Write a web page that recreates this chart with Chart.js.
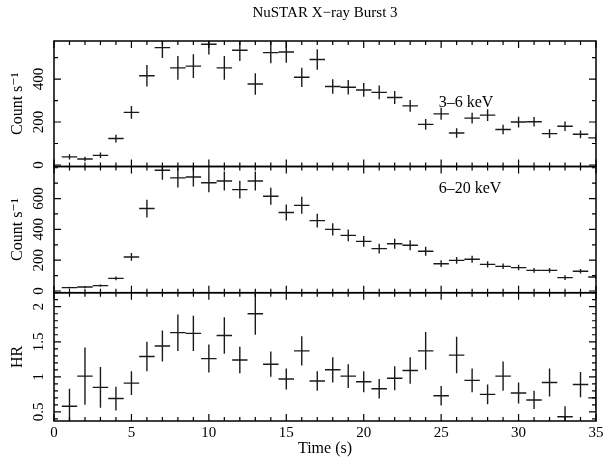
<!DOCTYPE html>
<html>
<head>
<meta charset="utf-8">
<script src="https://cdn.jsdelivr.net/npm/chart.js@4.4.1/dist/chart.umd.min.js"></script>
<style>
  body { margin: 0; background: #fff; width: 605px; height: 458px; position: relative; overflow: hidden; }
  canvas { position: absolute; left: 0; }
</style>
</head>
<body>
<canvas id="soft" width="605" height="172" style="top:0px"></canvas>
<canvas id="hard" width="605" height="140" style="top:160px"></canvas>
<canvas id="ratio" width="605" height="173" style="top:285px"></canvas>
<script>
// time bins (s), 1 s wide
const timeBins = [1, 2, 3, 4, 5, 6, 7, 8, 9, 10, 11, 12, 13, 14, 15, 16, 17, 18, 19, 20,
                  21, 22, 23, 24, 25, 26, 27, 28, 29, 30, 31, 32, 33, 34, 35];
const binHalf = 0.5;

// 3-6 keV count rate
const soft = [38, 28, 45, 123, 245, 415, 546, 452, 460, 562, 452, 534, 377, 523, 526, 408, 491, 365,
              362, 349, 338, 314, 275, 189, 238, 149, 218, 232, 165, 200, 201, 146, 180, 143, 126];
const softErr = [12, 10, 13, 18, 30, 50, 48, 55, 55, 48, 55, 50, 50, 50, 50, 45, 48, 34,
                 34, 32, 32, 30, 27, 25, 28, 22, 25, 27, 22, 25, 22, 20, 22, 18, 18];

// 6-20 keV count rate
const hard = [22, 26, 35, 82, 221, 535, 784, 734, 740, 703, 714, 658, 714, 615, 509, 556, 457, 400,
              361, 322, 275, 307, 297, 258, 177, 199, 206, 173, 160, 152, 134, 134, 87, 128, 91];
const hardErr = [6, 6, 8, 12, 25, 58, 62, 62, 62, 62, 62, 58, 62, 55, 52, 55, 45, 40,
                 38, 35, 32, 32, 32, 30, 22, 22, 22, 20, 18, 18, 16, 15, 15, 15, 15];

// hardness ratio
const hr = [0.58, 1.01, 0.85, 0.69, 0.91, 1.29, 1.44, 1.63, 1.62, 1.26, 1.59, 1.24, 1.90, 1.18, 0.97, 1.37, 0.94, 1.10,
            1.01, 0.93, 0.83, 0.98, 1.09, 1.37, 0.73, 1.31, 0.95, 0.75, 1.01, 0.77, 0.67, 0.92, 0.43, 0.89, 0.70];
const hrErr = [0.25, 0.41, 0.29, 0.17, 0.17, 0.21, 0.22, 0.26, 0.25, 0.20, 0.26, 0.19, 0.30, 0.18, 0.15, 0.21, 0.14, 0.18,
               0.17, 0.15, 0.14, 0.17, 0.19, 0.27, 0.14, 0.26, 0.17, 0.14, 0.21, 0.15, 0.13, 0.20, 0.15, 0.18, 0.17];

// tick labels
const timeTicks = [0, 5, 10, 15, 20, 25, 30, 35];
const softTicks = [0, 200, 400];
const hardTicks = [0, 200, 400, 600];
const hrTicks = [0.5, 1, 1.5, 2];

const serif = "'Liberation Serif', 'DejaVu Serif', serif";

// crosses, box and inward ticks
const panelPlugin = {
  id: 'panel',
  afterDatasetsDraw(chart, args, o) {
    const { ctx, chartArea: a, scales: { x, y } } = chart;
    ctx.save();
    ctx.beginPath();
    ctx.rect(a.left, a.top, a.right - a.left, a.bottom - a.top);
    ctx.clip();
    ctx.strokeStyle = '#1a1a1a';
    ctx.lineWidth = 1.4;
    chart.data.datasets.forEach(ds => {
      ds.data.forEach((p, i) => {
        const px = x.getPixelForValue(p.x), py = y.getPixelForValue(p.y);
        ctx.beginPath();
        ctx.moveTo(x.getPixelForValue(p.x - binHalf), py);
        ctx.lineTo(x.getPixelForValue(p.x + binHalf), py);
        ctx.moveTo(px, y.getPixelForValue(p.y - ds.err[i]));
        ctx.lineTo(px, y.getPixelForValue(p.y + ds.err[i]));
        ctx.stroke();
      });
    });
    ctx.restore();

    ctx.save();
    ctx.strokeStyle = '#000';
    ctx.lineWidth = 1.2;
    ctx.beginPath();
    for (let t = 0; t <= 35; t++) {
      const px = x.getPixelForValue(t);
      const len = t % 5 === 0 ? 7 : 4;
      ctx.moveTo(px, a.top); ctx.lineTo(px, a.top + len);
      ctx.moveTo(px, a.bottom); ctx.lineTo(px, a.bottom - len);
    }
    for (let k = 0; ; k++) {
      const v = o.minorFrom + k * o.minorStep;
      if (v > y.max) break;
      const py = y.getPixelForValue(v);
      const major = o.major.some(m => Math.abs(m - v) < 1e-6);
      const len = major ? 7 : 4;
      ctx.moveTo(a.left, py); ctx.lineTo(a.left + len, py);
      ctx.moveTo(a.right, py); ctx.lineTo(a.right - len, py);
    }
    ctx.stroke();
    ctx.lineWidth = 1.5;
    ctx.strokeRect(a.left, a.top, a.right - a.left, a.bottom - a.top);

    if (o.label) {
      ctx.fillStyle = '#000';
      ctx.font = '16px ' + serif;
      ctx.textAlign = 'center';
      ctx.textBaseline = 'middle';
      ctx.fillText(o.label, a.right - o.labelDx, a.top + o.labelDy);
    }
    ctx.restore();
  }
};

function yAxis(lo, hi, ticks, title, pad) {
  return {
    type: 'linear',
    min: lo,
    max: hi,
    afterBuildTicks: s => { s.ticks = ticks.map(v => ({ value: v })); },
    afterFit: s => { s.width = 54; s.paddingTop = 0; s.paddingBottom = 0; },
    grid: { display: false, drawTicks: false },
    border: { display: false },
    ticks: {
      autoSkip: false, minRotation: 90, maxRotation: 90, crossAlign: 'center', padding: pad,
      color: '#000', font: { family: serif, size: 15 }, callback: v => String(v)
    },
    title: { display: true, text: title, color: '#000', font: { family: serif, size: 16 }, padding: { top: 8, bottom: 0 } }
  };
}

function makePanel(id, values, errors, yOpts, xOpts, pad, panelOpts, title) {
  new Chart(document.getElementById(id), {
    type: 'scatter',
    data: {
      datasets: [{
        data: timeBins.map((t, i) => ({ x: t, y: values[i] })),
        err: errors,
        pointRadius: 0,
        pointHoverRadius: 0,
        showLine: false
      }]
    },
    options: {
      responsive: false,
      animation: false,
      devicePixelRatio: 1,
      layout: { padding: pad },
      plugins: {
        legend: { display: false },
        tooltip: { enabled: false },
        title: title || { display: false },
        panel: panelOpts
      },
      scales: { x: xOpts, y: yOpts }
    },
    plugins: [panelPlugin]
  });
}

const hiddenX = { type: 'linear', min: 0, max: 35, display: false };

makePanel('soft', soft, softErr,
  yAxis(-7, 577, softTicks, 'Count s\u207B\u00B9', 4),
  hiddenX,
  { top: 0, bottom: 5.5, left: 0, right: 9 },
  { minorFrom: 0, minorStep: 100, major: softTicks, label: '3\u20136 keV', labelDx: 130, labelDy: 62 },
  {
    display: true, text: 'NuSTAR X\u2212ray Burst 3', fullSize: false, color: '#000',
    font: { family: serif, size: 15, weight: 'normal' }, padding: { top: 4, bottom: 19 }
  });

makePanel('hard', hard, hardErr,
  yAxis(-11, 808, hardTicks, 'Count s\u207B\u00B9', 4),
  hiddenX,
  { top: 6.5, bottom: 7.3, left: 0, right: 9 },
  { minorFrom: 0, minorStep: 100, major: hardTicks, label: '6\u201320 keV', labelDx: 126, labelDy: 22 });

makePanel('ratio', hr, hrErr,
  yAxis(0.37, 2.2, hrTicks, 'HR', 5.5),
  {
    type: 'linear', min: 0, max: 35,
    afterBuildTicks: s => { s.ticks = timeTicks.map(v => ({ value: v })); },
    afterFit: s => { s.height = 37; s.paddingLeft = 0; s.paddingRight = 0; },
    grid: { display: false, drawTicks: false },
    border: { display: false },
    ticks: { autoSkip: false, maxRotation: 0, padding: 3, color: '#000', font: { family: serif, size: 15 }, callback: v => String(v) },
    title: { display: true, text: 'Time (s)', color: '#000', font: { family: serif, size: 16 }, padding: { top: 0, bottom: 0 } }
  },
  { top: 7.7, bottom: 0, left: 0, right: 9 },
  { minorFrom: 0.4, minorStep: 0.1, major: hrTicks });
</script>
</body>
</html>
